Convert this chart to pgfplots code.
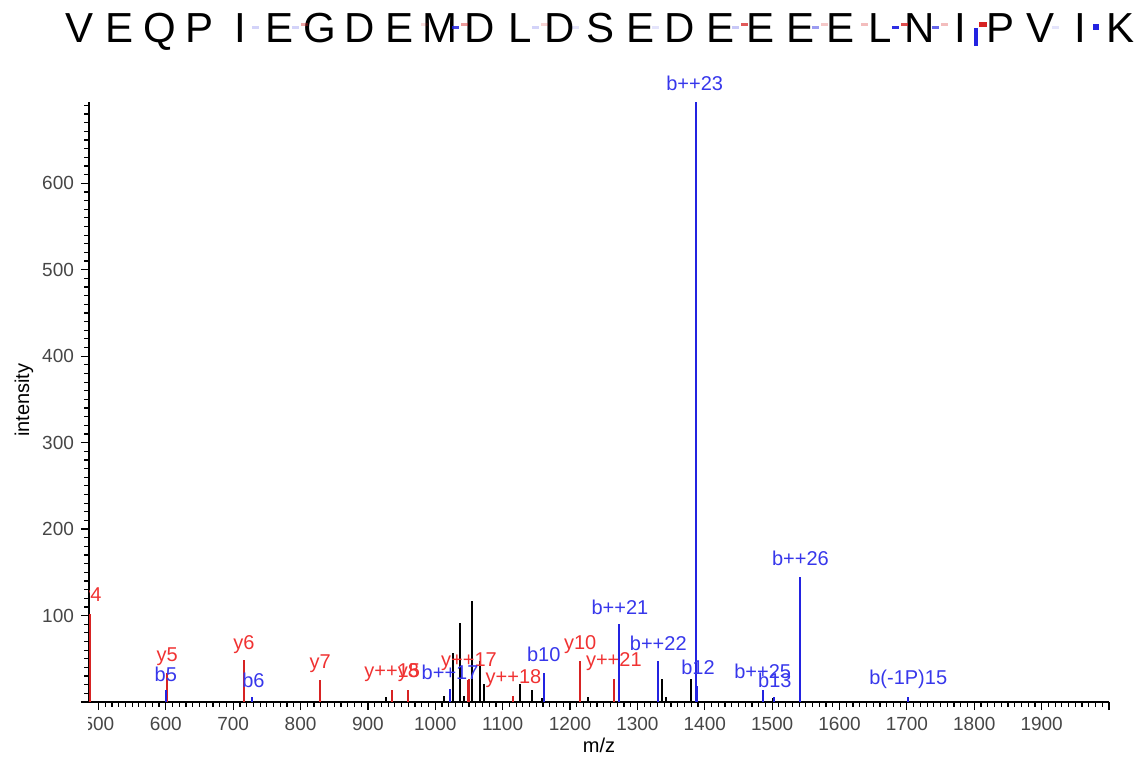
\documentclass[border=0pt]{standalone}
\usepackage{fontspec}
\setmainfont{Liberation Sans}
\usepackage{pgfplots}
\pgfplotsset{compat=1.18}
\definecolor{pkred}{RGB}{215,35,35}
\definecolor{pkblue}{RGB}{35,35,225}
\definecolor{lbred}{RGB}{240,50,50}
\definecolor{lbblue}{RGB}{55,55,235}
\definecolor{tickgray}{RGB}{70,70,70}
\tikzset{lbl/.style={inner sep=0pt, anchor=center, font=\fontsize{10}{12}\selectfont}}
\begin{document}
\begin{tikzpicture}[x=1pt,y=1pt]
\useasboundingbox (-44.5,-27.5) rectangle (525,351);
\begin{axis}[
  at={(0,0)}, anchor=south west,
  scale only axis, width=510pt, height=300pt,
  xmin=486, xmax=2000, ymin=0, ymax=694,
  axis x line*=bottom, axis y line*=left,
  axis line style={-, line width=0.9pt},
  xtick={500,600,...,2000},
  xticklabels={500,600,700,800,900,1000,1100,1200,1300,1400,1500,1600,1700,1800,1900,{}},
  ytick={0,100,...,700},
  yticklabels={{},100,200,300,400,500,600,{}},
  minor x tick num=9, minor y tick num=9,
  tick align=outside, major tick length=4pt, minor tick length=2.4pt,
  tick style={black, line width=0.6pt},
  ticklabel style={font=\fontsize{9.5}{11}\selectfont, text=tickgray},
  /pgf/number format/assume math mode=true,
  xlabel={m/z}, ylabel={intensity},
  label style={font=\fontsize{10}{12}\selectfont},
  xlabel style={at={(axis description cs:0.5,-0.0717)}, anchor=center},
  ylabel style={at={(axis description cs:-0.0637,0.503)}, anchor=center},
  clip=false,
]
% unassigned peaks
\addplot[ycomb, black, line width=1pt, mark=none] coordinates {
(927,6) (1013,7) (1027,57) (1036,91) (1043,7) (1054,117) (1067,47) (1073,21)
(1126,21) (1143,14) (1159,5) (1227,6) (1337,27) (1342,6) (1379,27) (1501,5)
};
% y ions
\addplot[ycomb, pkred, line width=1pt, mark=none] coordinates {
(487,102) (602,34) (716,49) (829,26) (936,14) (960,14) (1048,26) (1050,27)
(1116,7) (1215,48) (1265,27)
};
% b ions
\addplot[ycomb, pkblue, line width=1pt, mark=none] coordinates {
(600,14) (728,6) (1022,15) (1161,33) (1272,90) (1331,48) (1387,694) (1389,19)
(1486,14) (1502,6) (1542,145) (1702,6)
};
\node[lbl, text=lbred] at (axis cs:602,52) {y5};
\node[lbl, text=lbred] at (axis cs:716,66) {y6};
\node[lbl, text=lbred] at (axis cs:829,44) {y7};
\node[lbl, text=lbred] at (axis cs:936,34) {y++15};
\node[lbl, text=lbred] at (axis cs:960,34) {y8};
\node[lbl, text=lbred] at (axis cs:1050,47) {y++17};
\node[lbl, text=lbred] at (axis cs:1116,27) {y++18};
\node[lbl, text=lbred] at (axis cs:1215,66) {y10};
\node[lbl, text=lbred] at (axis cs:1265,47) {y++21};
\node[lbl, text=lbblue] at (axis cs:600,32) {b5};
\node[lbl, text=lbblue] at (axis cs:730,25) {b6};
\node[lbl, text=lbblue] at (axis cs:1022,34) {b++17};
\node[lbl, text=lbblue] at (axis cs:1161,55) {b10};
\node[lbl, text=lbblue] at (axis cs:1274,109) {b++21};
\node[lbl, text=lbblue] at (axis cs:1331,68) {b++22};
\node[lbl, text=lbblue] at (axis cs:1390,40) {b12};
\node[lbl, text=lbblue] at (axis cs:1385,715) {b++23};
\node[lbl, text=lbblue] at (axis cs:1486,36) {b++25};
\node[lbl, text=lbblue] at (axis cs:1504,25) {b13};
\node[lbl, text=lbblue] at (axis cs:1542,166) {b++26};
\node[lbl, text=lbblue] at (axis cs:1702,26) {b(-1P)15};
\end{axis}
% labels cut at the left edge of the plot
\fill[white] (-44.5,-1.5) rectangle (-0.4,-27.5);
\begin{scope}
\clip (0,0) rectangle (520,360);
\node[lbl, text=lbred] at (1,52.5) {y4};
\end{scope}
% peptide sequence with fragment marks
\foreach \l [count=\i from 0] in {V,E,Q,P,I,E,G,D,E,M,D,L,D,S,E,D,E,E,E,E,L,N,I,P,V,I,K}
  \node[anchor=base, inner sep=0pt, font=\fontsize{21}{25}\selectfont] at ({-4.5+20*\i},330) {\l};
\foreach \i/\bo/\ro in {4/0.2/0, 5/0.2/0.4, 8/0/0.15, 9/0.85/0.45, 11/0.2/0.2, 12/0.12/0,
  14/0.12/0, 16/0.25/0.75, 18/0.45/0.25, 19/0/0.3, 20/0.95/0.8, 21/0.7/0.3, 24/0.12/0} {
  \fill[pkblue, opacity=\bo] ({5.5+20*\i-4},336.5) rectangle ({5.5+20*\i-0.5},338);
  \fill[pkred, opacity=\ro] ({5.5+20*\i+0.5},338) rectangle ({5.5+20*\i+4},339.5);
}
\fill[pkblue] ({5.5+20*22-3},328) rectangle ({5.5+20*22-1},337);
\fill[pkred] ({5.5+20*22-0.5},337.5) rectangle ({5.5+20*22+3.5},340);
\fill[pkblue] ({5.5+20*25-3.5},336) rectangle ({5.5+20*25-0.5},339);
\end{tikzpicture}
\end{document}
